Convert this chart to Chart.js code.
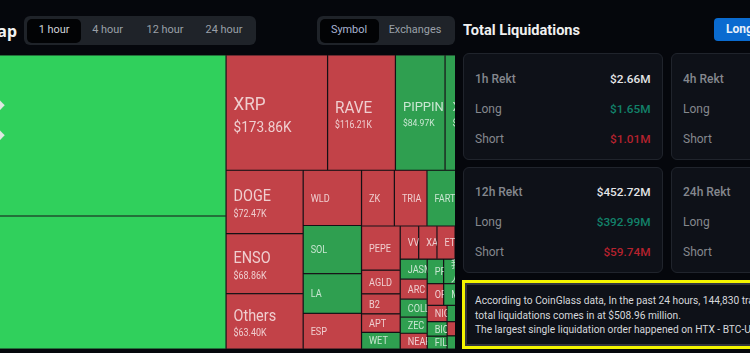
<!DOCTYPE html>
<html><head><meta charset="utf-8">
<script src="https://cdn.jsdelivr.net/npm/chart.js@4"></script>
<style>
html,body{margin:0;padding:0;width:750px;height:353px;overflow:hidden;background:#05070c;font-family:Roboto,sans-serif}
.a{position:absolute;white-space:nowrap}
.group{background:#1f2329;border-radius:6px}
.on{background:#020305;border-radius:5px}
.tab{font-size:10.9px;line-height:16px;color:#9aa0a8;transform:translateX(-50%)}
.card{background:#0e1118;border:1px solid #20242c;border-radius:6px;box-sizing:border-box}
.lab{font-size:12px;line-height:16px;color:#85888e}
.val{font-size:11.8px;line-height:16px;font-weight:500;text-align:right}
canvas{position:absolute;left:0;top:55px}
</style></head><body>
<div class="a" style="right:733px;top:19px;font-family:'Noto Sans';font-size:16px;line-height:24px;font-weight:700;color:#f2f2f2">Liquidation Heatmap</div>
<div class="a group" style="left:24px;top:16px;width:232px;height:29px"></div>
<div class="a on" style="left:26.5px;top:18.5px;width:54.5px;height:24.5px"></div>
<div class="a tab" style="left:54px;top:22px;color:#d0d3d8">1 hour</div>
<div class="a tab" style="left:107.5px;top:22px">4 hour</div>
<div class="a tab" style="left:165px;top:22px">12 hour</div>
<div class="a tab" style="left:224px;top:22px">24 hour</div>
<div class="a group" style="left:317px;top:16px;width:138px;height:29px"></div>
<div class="a on" style="left:319.5px;top:18.5px;width:59.5px;height:24.5px"></div>
<div class="a tab" style="left:349px;top:22px;color:#a9b4d2">Symbol</div>
<div class="a tab" style="left:415px;top:22px">Exchanges</div>

<div id="wrap"><canvas id="c" width="455" height="294"></canvas></div>
<div class="a" style="left:-6px;top:96px;font-size:14px;line-height:16px;color:#dfe8e2">◆</div>
<div class="a" style="left:-6px;top:126px;font-size:14px;line-height:16px;color:#dfe8e2">◆</div>

<div class="a" style="left:463px;top:19px;font-size:14.6px;line-height:23px;font-weight:700;color:#f0f0f0">Total Liquidations</div>
<div class="a" style="left:714px;top:18px;width:60px;height:23px;background:#0a6bd0;border-radius:4px;color:#e8f0fa;font-size:12px;font-weight:700;line-height:23px;padding-left:12px;box-sizing:border-box">Long</div>

<div id="cards"></div>

<div class="a" style="left:462px;top:279.5px;width:300px;height:69px;box-sizing:border-box;border:3px solid #f4f400;background:#0e1118;box-shadow:inset 0 0 0 2px #33363c"></div>
<div class="a" style="left:475px;top:294px;font-size:10.2px;line-height:14.5px;color:#d6d8dc">According to CoinGlass data, In the past 24 hours, 144,830 traders were liquidated, the<br>total liquidations comes in at $508.96 million.<br>The largest single liquidation order happened on HTX - BTC-USDT value</div>

<script>
// ---- treemap data (thousands of USD; unlabelled cells estimated from area)
const symbols = ['BTC','ETH','XRP','RAVE','PIPPIN','XPL','DOGE','ENSO','Others','WLD','SOL','LA','ESP',
  'ZK','TRIA','FARTCOIN','ZRO','PEPE','AGLD','B2','APT','WET','VVV','XAG','ETC','A1','A2',
  'JASMY','ARC','COLLECT','ZEC','NEAR','PP','我踏马\n人','B1','OP','MON','C1','NIGHT','BIO','FIL','D1','D2','D3','E1'];
const liquidations = [851.7,703.6,173.86,116.21,84.97,78.7,72.47,68.86,63.40,47.9,41.8,34.4,30.9,
  27.2,27.0,26.8,26.2,25.4,13.6,11.5,10.7,9.5,9.1,9.0,8.9,8.9,8.8,
  8.0,8.0,7.2,6.5,6.3,6.0,5.9,11.4,5.3,5.2,10.0,4.8,4.3,3.8,4.6,4.0,3.7,16.2];
const sides = ['big','big','short','short','long','long','short','short','short','short','long','long','short',
  'short','short','long','long','short','short','short','short','long','short','short','short','short','long',
  'long','short','long','long','short','long','long','long','short','long','long','short','long','long','long','short','long','long'];
// nesting of the treemap: each level alternates between side-by-side and stacked
const nesting = [
  ['BTC','ETH'],
  [
    ['XRP','RAVE','PIPPIN','XPL'],
    [
      ['DOGE','ENSO','Others'],
      ['WLD','SOL','LA','ESP'],
      [
        ['ZK','TRIA','FARTCOIN','ZRO'],
        [
          ['PEPE','AGLD','B2','APT','WET'],
          [
            ['VVV','XAG','ETC','A1','A2'],
            [
              ['JASMY','ARC','COLLECT','ZEC','NEAR'],
              [
                ['PP','我踏马\n人','B1'],
                ['OP','MON','C1'],
                [['NIGHT','BIO','FIL'],['D1','D2','D3'],'E1']
              ]
            ]
          ]
        ]
      ]
    ]
  ]
];
const paletteBySide = {big:'#30d05c', long:'#2f9f50', short:'#c24248'};
const domainWidth = 621, domainHeight = 294, visibleFrom = 130, visibleTo = 585;

const valueOf = n => typeof n === 'string' ? liquidations[symbols.indexOf(n)]
  : n.reduce((s,c)=>s+valueOf(c),0);
const cells = [];
(function layout(node,x0,y0,x1,y1,depth){
  if (typeof node === 'string'){
    const i = symbols.indexOf(node);
    cells.push({x:x0,y:y0,x1,y1,name:node,v:liquidations[i],side:sides[i]});
    return;
  }
  const tot = valueOf(node); let pos = depth%2===0 ? x0 : y0;
  node.forEach(c=>{
    const f = valueOf(c)/tot;
    if (depth%2===0){ const e=pos+(x1-x0)*f; layout(c,pos,y0,e,y1,depth+1); pos=e; }
    else { const e=pos+(y1-y0)*f; layout(c,x0,pos,x1,e,depth+1); pos=e; }
  });
})(nesting,0,0,domainWidth,domainHeight,0);

class TreemapController extends Chart.DatasetController {
  static id = 'treemap';
  static defaults = {datasetElementType:false, dataElementType:'bar'};
  static overrides = {scales:{x:{type:'linear'},y:{type:'linear'}}};
  update(mode){ const d=this._cachedMeta.data; this.updateElements(d,0,d.length,mode); }
  updateElements(els,start,count,mode){
    const {xScale:xs,yScale:ys}=this._cachedMeta, data=this.getDataset().data;
    for(let i=start;i<start+count;i++){
      const c=data[i], l=xs.getPixelForValue(c.x), r=xs.getPixelForValue(c.x1),
            t=ys.getPixelForValue(c.y), b=ys.getPixelForValue(c.y1);
      this.updateElement(els[i],i,{x:(l+r)/2,width:r-l,y:t,base:b,height:b-t,horizontal:false,
        enableBorderRadius:false,inflateAmount:0,
        borderSkipped:{top:false,left:false,bottom:false,right:false},
        options:this.resolveDataElementOptions(i,mode)},mode);
    }
  }
}
Chart.register(TreemapController);

// label style by cell magnitude: name size, name width factor, name lift, value size, value width factor
function labelStyle(v,name){
  if (v>150) return {n:18,nx:.95,lift:.42,val:14,vx:.97};
  if (v>100) return {n:17,nx:.9,lift:.2,val:10.5,vx:.82};
  if (v>75)  return {n:13,nx:1,lift:.35,val:9.5,vx:.9};
  if (v>60)  return {n:name==='Others'?16:17,nx:name==='Others'?.9:.85,lift:.3,val:10.5,vx:.85};
  return {n:10.6,nx:.86,lift:0,val:0,vx:1};
}
function put(ctx,s,x,y,kx){ ctx.save(); ctx.translate(x,y); ctx.scale(kx,1); ctx.fillText(s,0,0); ctx.restore(); }
const cellLabels = {id:'cellLabels',afterDatasetsDraw(chart){
  const ctx=chart.ctx, meta=chart.getDatasetMeta(0);
  const ds=chart.data.datasets[0].data;
  meta.data.forEach((el,i)=>{
    const c=ds[i], l=el.x-el.width/2, w=el.width, h=el.height, cy=el.y+h/2;
    if (c.v>500) return;
    const f=labelStyle(c.v,c.name);
    ctx.save();
    ctx.beginPath(); ctx.rect(l,el.y,w,h); ctx.clip();
    ctx.fillStyle='rgba(255,255,255,.74)'; ctx.textBaseline='middle'; ctx.textAlign='left';
    ctx.font=f.n+'px Roboto, "Noto Sans CJK SC"';
    const lines=c.name.split('\n');
    if (f.val){
      put(ctx,lines[0],l+7.5,cy-f.n*f.lift,f.nx);
      ctx.font=f.val+'px Roboto';
      put(ctx,'$'+c.v.toFixed(2)+'K',l+7.5,cy+f.val*1.05+1.3,f.vx);
    } else {
      lines.forEach((s,k)=>put(ctx,s,l+7.5,cy+1+(k-(lines.length-1)/2)*14,f.nx));
    }
    ctx.restore();
  });
}};

new Chart(document.getElementById('c'),{
  type:'treemap',
  data:{datasets:[{data:cells,
    backgroundColor:cells.map(c=>paletteBySide[c.side]),
    borderColor:'#2a2024',borderWidth:0.6}]},
  options:{responsive:false,animation:false,
    layout:{padding:0},
    plugins:{legend:{display:false},tooltip:{enabled:false}},
    scales:{
      x:{type:'linear',display:false,min:visibleFrom,max:visibleTo},
      y:{type:'linear',display:false,min:0,max:domainHeight,reverse:true}
    }},
  plugins:[cellLabels]
});

// ---- summary cards
const cardTitles = ['1h Rekt','4h Rekt','12h Rekt','24h Rekt'];
const cardTotals = ['$2.66M','','$452.72M',''];
const cardLongs = ['$1.65M','','$392.99M',''];
const cardShorts = ['$1.01M','','$59.74M',''];
const host=document.getElementById('cards');
cardTitles.forEach((t,i)=>{
  const left=i%2?670.5:462.5, top=i<2?53:167, h=i<2?107:106;
  const rows=[[t,cardTotals[i],'#e4e5e7'],['Long',cardLongs[i],'#12826a'],['Short',cardShorts[i],'#b5222e']];
  let html=`<div class="a card" style="left:${left}px;top:${top}px;width:200px;height:${h}px"></div>`;
  rows.forEach((r,k)=>{
    const y=top+(i<2?18:17)+k*30;
    html+=`<div class="a lab" style="left:${left+12.5}px;top:${y}px;font-weight:${k?400:500}">${r[0]}</div>`;
    if(r[1]) html+=`<div class="a val" style="right:${750-left-188}px;top:${y}px;color:${r[2]}">${r[1]}</div>`;
  });
  host.insertAdjacentHTML('beforeend',html);
});
</script>
</body></html>
